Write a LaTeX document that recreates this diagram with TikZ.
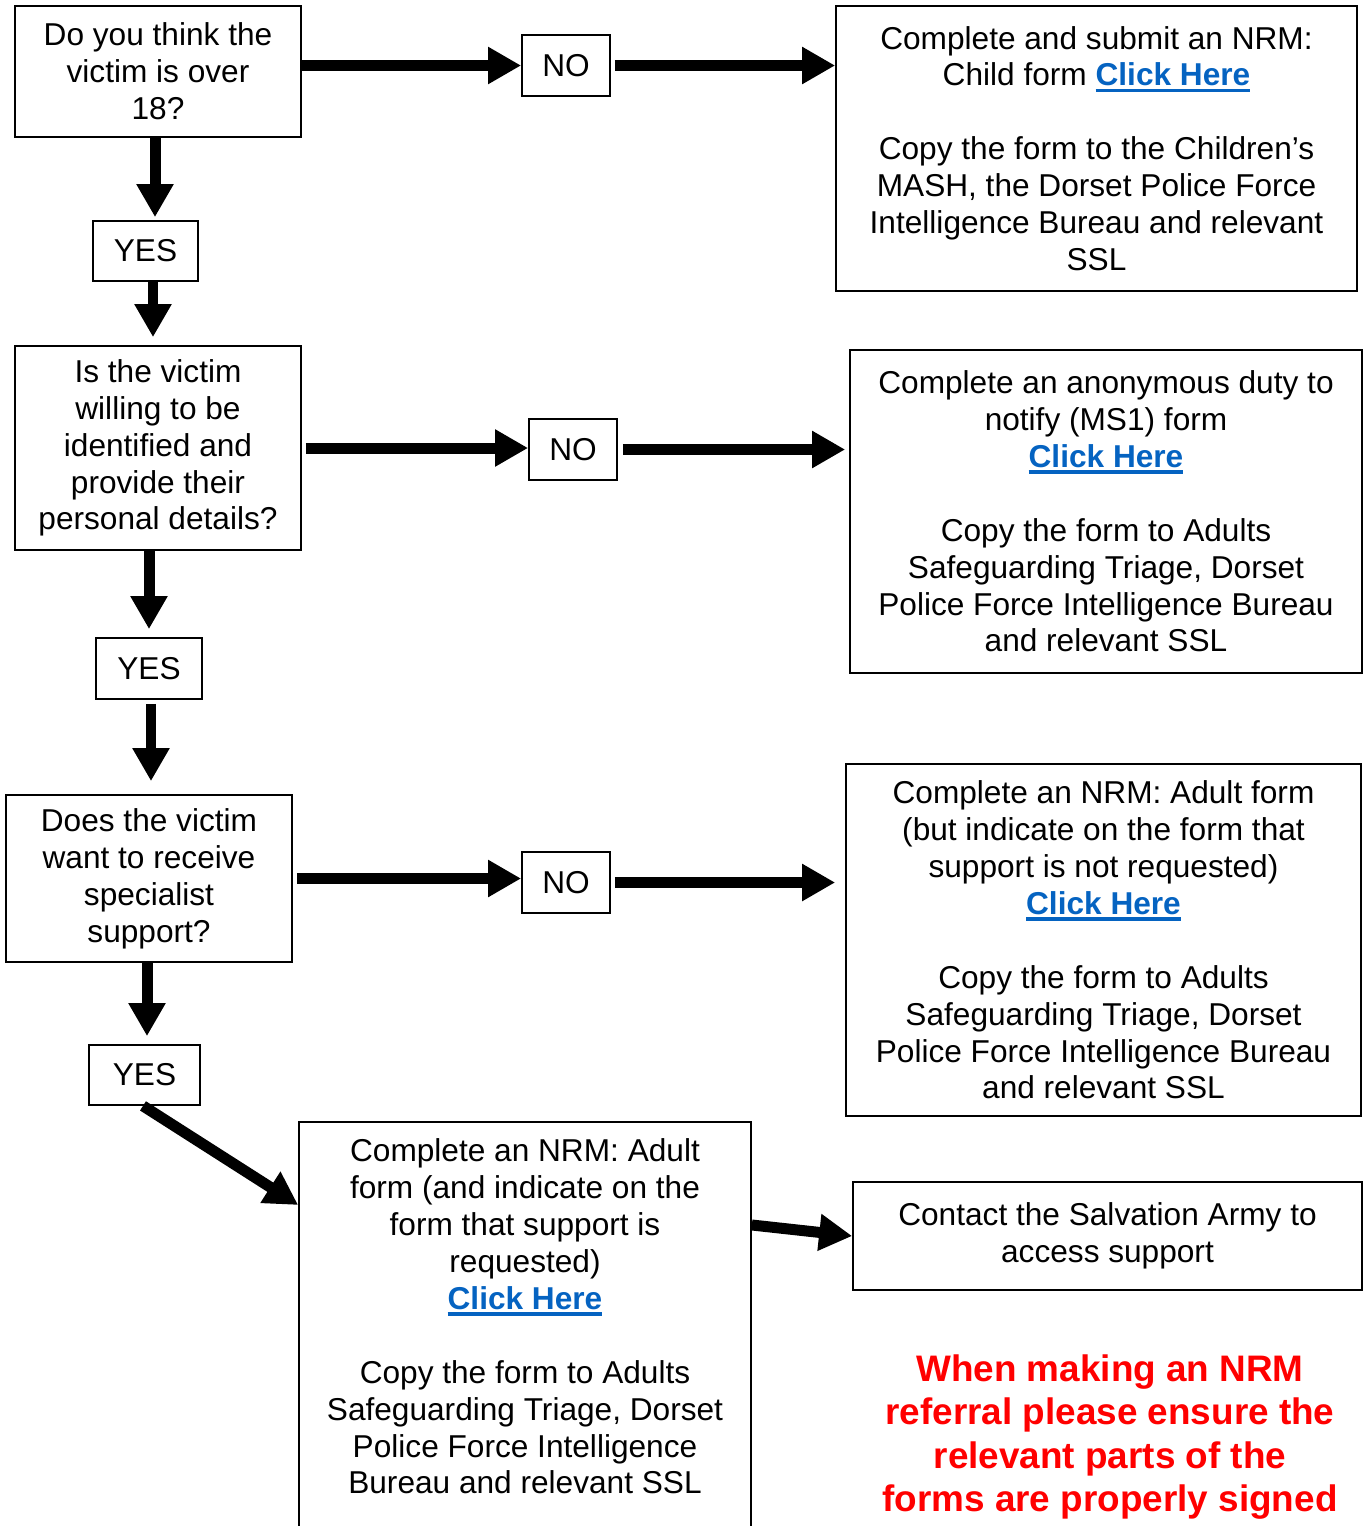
\documentclass[tikz,border=0pt]{standalone}
\usepackage{fontspec}
\setmainfont{Liberation Sans}
\usepackage{xcolor}
\usetikzlibrary{arrows.meta, positioning}

\definecolor{linkblue}{RGB}{5,99,193}
\definecolor{warnred}{RGB}{255,0,0}
\newcommand\clickhere{{\color{linkblue}\bfseries\setbox0\hbox{Click Here}\rlap{\rule[-3.6pt]{\wd0}{1.9pt}}\box0}}

\begin{document}
\begin{tikzpicture}[x=0.02cm, y=-0.02cm]
\tikzset{
  box/.style = {rectangle, draw, line width=1pt, inner sep=0pt, align=center,
                font=\fontsize{18}{21}\selectfont},
  txt/.style = {inner sep=0pt, align=center, font=\fontsize{18}{21}\selectfont},
  flowarrow/.style = {line width=0.22cm, -{Triangle[width=0.7cm, length=0.66cm]}}
}
\useasboundingbox (0,0) rectangle (1363,1526);

% questions
\node (q1) [box, minimum width=5.72cm, minimum height=2.62cm] at (158,71.5)
  {Do you think the\\ victim is over\\ 18?};
\node (q2) [box, minimum width=5.72cm, minimum height=4.08cm] at (158,448)
  {Is the victim\\ willing to be\\ identified and\\ provide their\\ personal details?};
\node (q3) [box, minimum width=5.72cm, minimum height=3.34cm] at (149,878.5)
  {Does the victim\\ want to receive\\ specialist\\ support?};

% answers
\node (no1) [box, minimum width=1.76cm, minimum height=1.22cm] at (566,65.5) {NO};
\node (no2) [box, minimum width=1.76cm, minimum height=1.22cm] at (573,449.5) {NO};
\node (no3) [box, minimum width=1.76cm, minimum height=1.22cm] at (566,882.5) {NO};
\node (yes1) [box, minimum width=2.1cm, minimum height=1.2cm] at (145.5,251) {YES};
\node (yes2) [box, minimum width=2.12cm, minimum height=1.22cm] at (149,668.5) {YES};
\node (yes3) [box, minimum width=2.22cm, minimum height=1.2cm] at (144.5,1075) {YES};

% actions
\node (r1) [box, minimum width=10.42cm, minimum height=5.7cm] at (1096.5,148.5)
  {Complete and submit an NRM:\\ Child form \clickhere\\[0.74cm]
   Copy the form to the Children’s\\ MASH, the Dorset Police Force\\
   Intelligence Bureau and relevant\\ SSL};
\node (r2) [box, minimum width=10.24cm, minimum height=6.46cm] at (1106,511.5)
  {Complete an anonymous duty to\\ notify (MS1) form\\ \clickhere\\[0.74cm]
   Copy the form to Adults\\ Safeguarding Triage, Dorset\\
   Police Force Intelligence Bureau\\ and relevant SSL};
\node (r3) [box, minimum width=10.3cm, minimum height=7.04cm] at (1103.5,940)
  {Complete an NRM: Adult form\\ (but indicate on the form that\\
   support is not requested)\\ \clickhere\\[0.74cm]
   Copy the form to Adults\\ Safeguarding Triage, Dorset\\
   Police Force Intelligence Bureau\\ and relevant SSL};
\node (r4) [box, anchor=north, minimum width=9.04cm, minimum height=9cm] at (525,1121) {};
\node (r4txt) [txt] at (525,1316.5)
  {Complete an NRM: Adult\\ form (and indicate on the\\ form that support is\\
   requested)\\ \clickhere\\[0.74cm]
   Copy the form to Adults\\ Safeguarding Triage, Dorset\\
   Police Force Intelligence\\ Bureau and relevant SSL};
\node (r5) [box, minimum width=10.18cm, minimum height=2.16cm] at (1107.5,1236)
  {Contact the Salvation Army to\\ access support};

\node (note) [txt, text=warnred, font=\fontsize{21}{24.5}\selectfont\bfseries] at (1110,1437)
  {When making an NRM\\ referral please ensure the\\ relevant parts of the\\
   forms are properly signed};

% arrows
\draw[flowarrow] (q1.east |- no1.west) -- (no1.west);
\draw[flowarrow, shorten <=0.08cm] (no1.east) -- (no1.east -| r1.west);
\draw[flowarrow, shorten >=0.06cm] ([xshift=-0.06cm]q1.south) -- ([xshift=-0.06cm]q1.south |- yes1.north);
\draw[flowarrow, shorten >=0.16cm] ([xshift=0.15cm]yes1.south) -- ([xshift=0.15cm]yes1.south |- q2.north);

\draw[flowarrow, shorten <=0.08cm] (q2.east) -- (q2.east -| no2.west);
\draw[flowarrow, shorten <=0.1cm, shorten >=0.08cm] (no2.east) -- (no2.east -| r2.west);
\draw[flowarrow, shorten >=0.16cm] ([xshift=-0.18cm]q2.south) -- ([xshift=-0.18cm]q2.south |- yes2.north);
\draw[flowarrow, shorten <=0.08cm, shorten >=0.26cm] ([xshift=0.04cm]yes2.south) -- ([xshift=0.04cm]yes2.south |- q3.north);

\draw[flowarrow, shorten <=0.08cm] (q3.east) -- (q3.east -| no3.west);
\draw[flowarrow, shorten <=0.08cm, shorten >=0.2cm] (no3.east) -- (no3.east -| r3.west);
\draw[flowarrow, shorten >=0.16cm] ([xshift=-0.04cm]q3.south) -- ([xshift=-0.04cm]q3.south |- yes3.north);
\draw[flowarrow] ([xshift=-0.03cm]yes3.south) -- ([yshift=-1.68cm]r4.north west);

\draw[flowarrow] ([yshift=-2.08cm]r4.north east) -- (r5.west);
\end{tikzpicture}
\end{document}
